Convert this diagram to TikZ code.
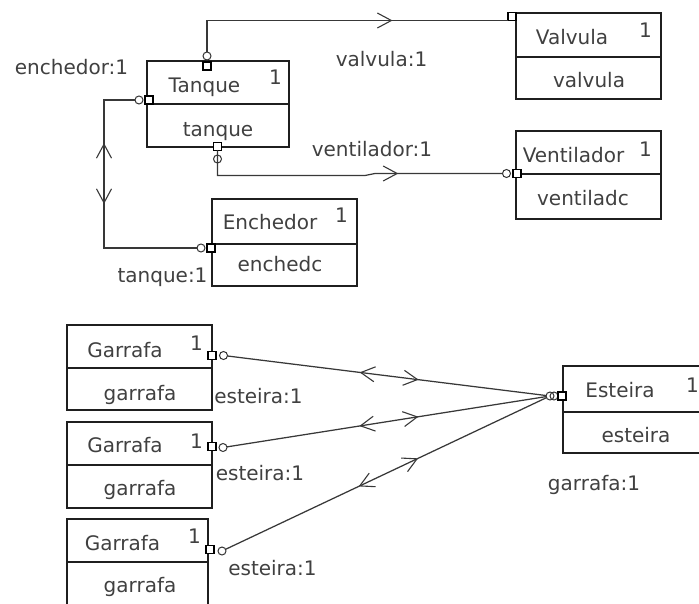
\documentclass[tikz,border=0pt]{standalone}
\usepackage{fontspec}
\setmainfont{DejaVu Sans}
\usetikzlibrary{arrows.meta,decorations.markings}

\tikzset{
  chev/.tip={Straight Barb[length=14pt,width=15pt,line width=1.1pt]},
}

\begin{document}
\begin{tikzpicture}[x=1pt,y=-1pt,
  every node/.style={inner sep=0pt,outer sep=0pt},
  classbox/.style={draw=black!88,line width=2.2pt,anchor=north west},
  divider/.style={draw=black!88,line width=2.2pt},
  txt/.style={font=\fontsize{20}{24}\selectfont,text=black!75,anchor=base},
  portsq/.style={draw=black,fill=white,line width=1.7pt,minimum size=8pt},
  portci/.style={draw=black!80,circle,line width=1pt,minimum size=8pt},
  conn/.style={draw=black!78,line width=1.25pt},
  twoway/.style={postaction={decorate},decoration={markings,
      mark=at position 0.415 with {\arrowreversed{chev}},
      mark=at position 0.6 with {\arrow{chev}}}},
]
\useasboundingbox (0,0) rectangle (699,604);
\clip (0,0) rectangle (699,604);

% ---- class boxes ----
\node[classbox,minimum width=142pt,minimum height=86pt] (tanque) at (147,61) {};
\node[classbox,minimum width=145pt,minimum height=86pt] (valvula) at (516,13) {};
\node[classbox,minimum width=145pt,minimum height=88pt] (ventilador) at (516,131) {};
\node[classbox,minimum width=145pt,minimum height=87pt] (enchedor) at (212,199) {};
\node[classbox,minimum width=145pt,minimum height=85pt] (garrafaA) at (67,325) {};
\node[classbox,minimum width=145pt,minimum height=86pt] (garrafaB) at (67,422) {};
\node[classbox,minimum width=141pt,minimum height=110pt] (garrafaC) at (67,519) {};
\node[classbox,minimum width=160pt,minimum height=87pt] (esteira) at (563,366) {};

% compartment dividers
\draw[divider] (tanque.west |- 0,104) -- (tanque.east |- 0,104);
\draw[divider] (valvula.west |- 0,57) -- (valvula.east |- 0,57);
\draw[divider] (ventilador.west |- 0,174) -- (ventilador.east |- 0,174);
\draw[divider] (enchedor.west |- 0,244) -- (enchedor.east |- 0,244);
\draw[divider] (garrafaA.west |- 0,368) -- (garrafaA.east |- 0,368);
\draw[divider] (garrafaB.west |- 0,465) -- (garrafaB.east |- 0,465);
\draw[divider] (garrafaC.west |- 0,562) -- (garrafaC.east |- 0,562);
\draw[divider] (esteira.west |- 0,412) -- (esteira.east |- 0,412);

% ---- box texts ----
\node[txt] (t-name) at (204.5,93) {Tanque};
\node[txt] (t-mult) at (275.5,85) {1};
\node[txt] (t-inst) at (218,137) {tanque};
\node[txt] (v-name) at (572,45) {Valvula};
\node[txt] (v-mult) at (645.5,38) {1};
\node[txt] (v-inst) at (589,88) {valvula};
\node[txt] (f-name) at (573.5,163) {Ventilador};
\node[txt] (f-mult) at (645.5,157) {1};
\node[txt] (f-inst) at (583,206) {ventiladc};
\node[txt] (e-name) at (270,230) {Enchedor};
\node[txt] (e-mult) at (341.5,223) {1};
\node[txt] (e-inst) at (280,272) {enchedc};
\node[txt] (ga-name) at (125,357) {Garrafa};
\node[txt] (ga-mult) at (196.5,350) {1};
\node[txt] (ga-inst) at (140,400) {garrafa};
\node[txt] (gb-name) at (125,452) {Garrafa};
\node[txt] (gb-mult) at (196.5,448) {1};
\node[txt] (gb-inst) at (140,495) {garrafa};
\node[txt] (gc-name) at (122.5,550) {Garrafa};
\node[txt] (gc-mult) at (194.5,543) {1};
\node[txt] (gc-inst) at (140,592) {garrafa};
\node[txt] (s-name) at (620,397) {Esteira};
\node[txt] (s-mult) at (692.5,392) {1};
\node[txt] (s-inst) at (636,442) {esteira};

% ---- role labels ----
\node[txt] (r-ench) at (71.5,75) {enchedor:1};
\node[txt] (r-valv) at (381.5,67) {valvula:1};
\node[txt] (r-vent) at (372,157) {ventilador:1};
\node[txt] (r-tanq) at (162.5,283) {tanque:1};
\node[txt] (r-esta) at (258.5,403) {esteira:1};
\node[txt] (r-estb) at (260,480) {esteira:1};
\node[txt] (r-estc) at (272.5,575) {esteira:1};
\node[txt] (r-garr) at (594,490) {garrafa:1};

% ---- ports ----
\node[portsq] (tq-top) at (207,66) {};
\node[portci] (tq-top-c) at (207,56) {};
\node[portsq] (tq-bot) at (217.5,146.5) {};
\node[portci] (tq-bot-c) at (217.5,159) {};
\node[portsq] (tq-left) at (149,100) {};
\node[portci] (tq-left-c) at (139,100) {};
\node[portsq] (valv-port) at (512,16.5) {};
\node[portsq] (vent-port) at (517,173.5) {};
\node[portci] (vent-c) at (506.5,173.5) {};
\node[portsq] (ench-port) at (211,248) {};
\node[portci] (ench-c) at (201,248) {};
\node[portsq] (ga-port) at (212,355.5) {};
\node[portci] (ga-c) at (223.5,355.5) {};
\node[portsq] (gb-port) at (212,446.5) {};
\node[portci] (gb-c) at (223,447.5) {};
\node[portsq] (gc-port) at (210,549.5) {};
\node[portci] (gc-c) at (222,551) {};
\node[portci] (est-c2) at (554,396) {};
\node[portci] (est-c1) at (550,396) {};
\node[portsq] (est-port) at (562,396) {};

% ---- connectors ----
\coordinate (ench-bend) at (104,100);
\coordinate (vent-k1) at (365,175.5);
\coordinate (vent-k2) at (375,173.5);

\draw[conn,postaction={decorate},decoration={markings,
    mark=at position 217pt with {\arrow{chev}}}]
  (tq-top-c.north) |- (valv-port.south west);
\draw[conn,postaction={decorate},decoration={markings,
    mark=at position 206pt with {\arrow{chev}}}]
  (tq-bot.south) |- (vent-k1) -- (vent-k2) -- (vent-c.west);
\draw[conn,postaction={decorate},decoration={markings,
    mark=at position 74pt with {\arrowreversed{chev}},
    mark=at position 135pt with {\arrow{chev}}}]
  (tq-left-c.west) -- (ench-bend) |- (ench-c.west);

\draw[conn,twoway] (ga-c) -- (est-c1);
\draw[conn,twoway] (gb-c) -- (est-c1);
\draw[conn,twoway] (gc-c) -- (est-c1);
\end{tikzpicture}
\end{document}
